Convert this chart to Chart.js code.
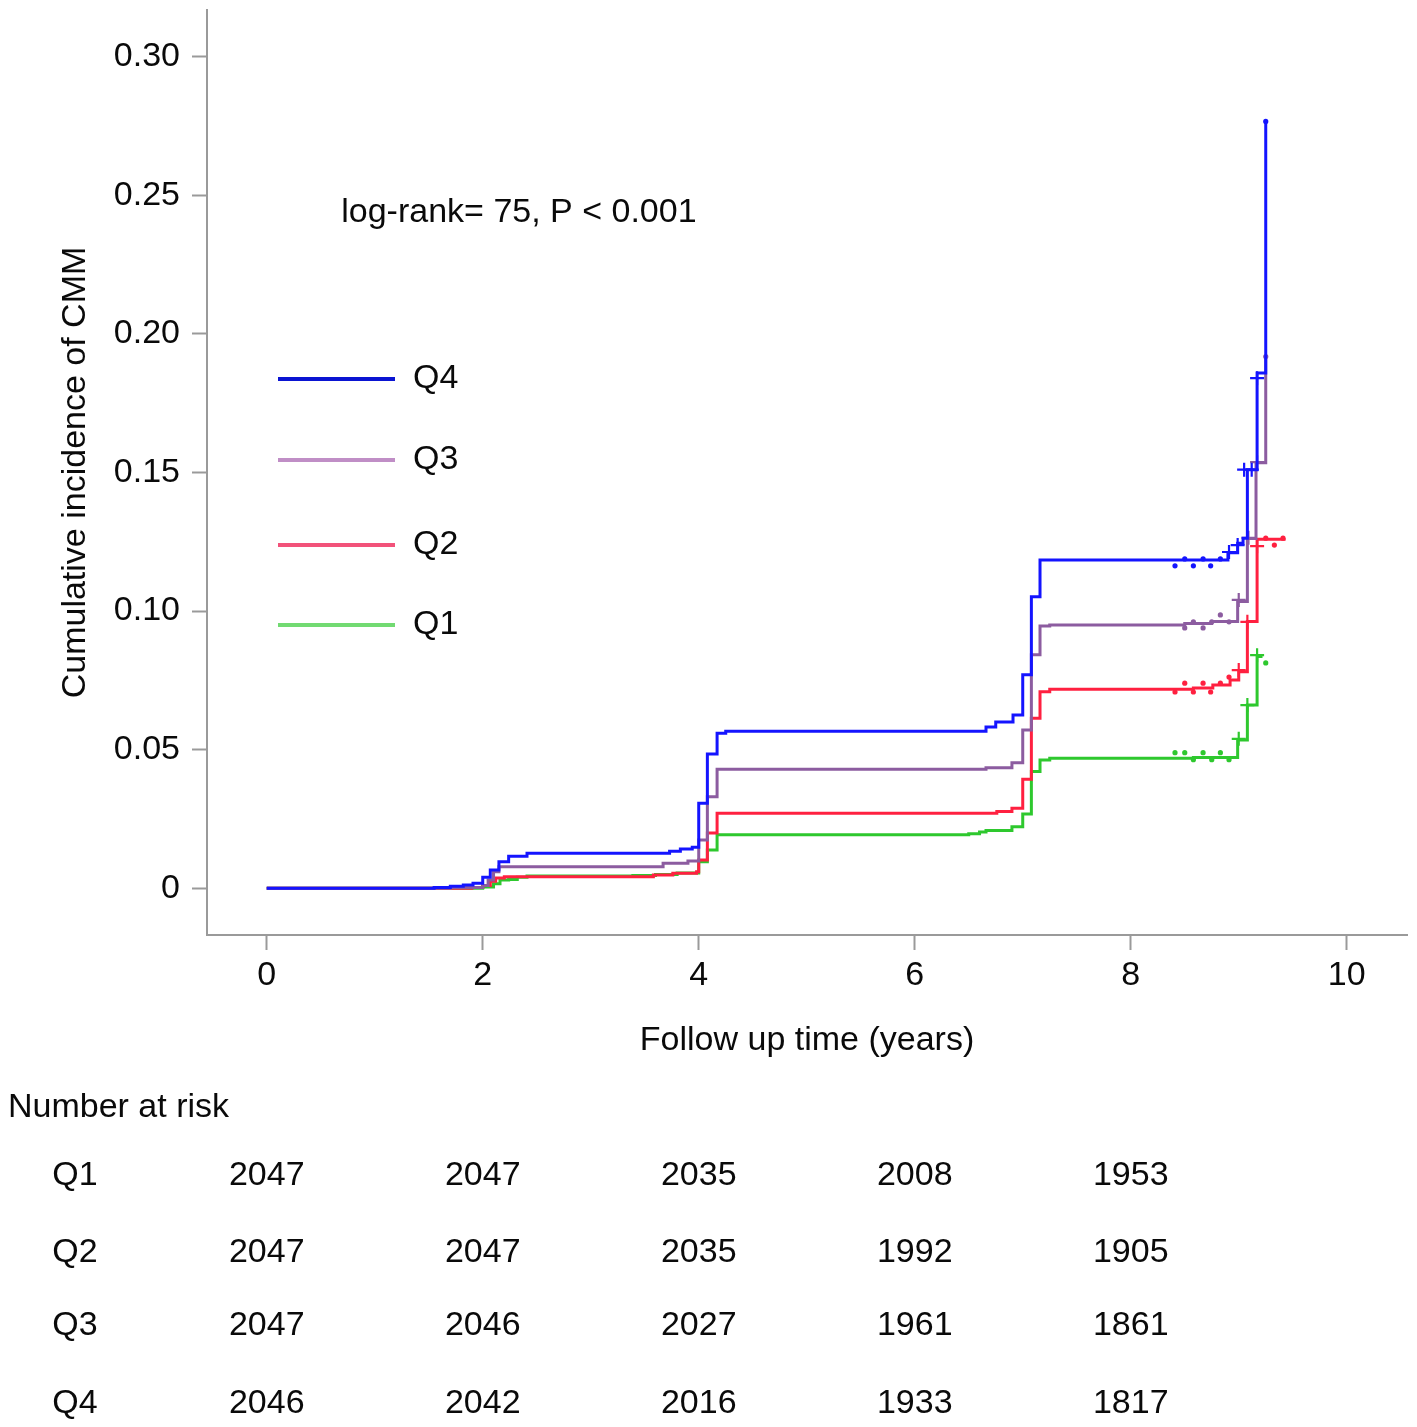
<!DOCTYPE html>
<html>
<head>
<meta charset="utf-8">
<script src="https://cdn.jsdelivr.net/npm/chart.js@4.4.0/dist/chart.umd.min.js"></script>
<style>
  html, body { margin: 0; padding: 0; background: #ffffff; }
  #wrap { position: relative; width: 1417px; height: 1427px; }
</style>
</head>
<body>
<div id="wrap"><canvas id="c" width="1417" height="1427"></canvas></div>
<script>
// ---------------- DATA ----------------
const groupNames = ['Q4', 'Q3', 'Q2', 'Q1'];

// Step curves: value becomes v at time t
const q4Times  = [0, 1.55, 1.70, 1.82, 1.91, 2.00, 2.07, 2.15, 2.24, 2.41, 3.73, 3.83, 3.94, 4.00, 4.08, 4.17, 4.25, 6.66, 6.75, 6.91, 7.00, 7.08, 7.16, 8.90, 8.99, 9.04, 9.08, 9.17, 9.25];
const q4Values = [0, 0.0003, 0.0007, 0.0012, 0.0018, 0.0040, 0.0066, 0.0096, 0.0116, 0.0126, 0.0134, 0.0142, 0.0148, 0.0307, 0.0484, 0.0559, 0.0566, 0.0582, 0.0600, 0.0625, 0.0770, 0.1052, 0.1184, 0.1210, 0.1245, 0.1263, 0.1510, 0.1859, 0.2766];

const q3Times  = [0, 1.70, 2.00, 2.05, 2.10, 2.15, 3.67, 3.90, 4.00, 4.08, 4.17, 6.66, 6.90, 7.00, 7.08, 7.16, 7.25, 8.50, 8.75, 8.99, 9.08, 9.16, 9.25];
const q3Values = [0, 0.0003, 0.0010, 0.0030, 0.0060, 0.0078, 0.0090, 0.0098, 0.0174, 0.0330, 0.0429, 0.0435, 0.0453, 0.0571, 0.0842, 0.0946, 0.0950, 0.0955, 0.0962, 0.1034, 0.1262, 0.1535, 0.1918];

const q2Times  = [0, 1.90, 2.00, 2.07, 2.12, 2.20, 3.58, 3.76, 3.98, 4.00, 4.08, 4.17, 6.76, 6.90, 7.00, 7.08, 7.16, 7.25, 8.58, 8.76, 8.92, 9.00, 9.08, 9.17, 9.42];
const q2Values = [0, 0.0003, 0.0010, 0.0025, 0.0037, 0.0042, 0.0048, 0.0054, 0.0060, 0.0102, 0.0199, 0.0271, 0.0277, 0.0289, 0.0393, 0.0613, 0.0709, 0.0718, 0.0722, 0.0733, 0.0751, 0.0781, 0.0962, 0.1259, 0.1263];

const q1Times  = [0, 2.00, 2.10, 2.16, 2.24, 2.32, 2.41, 3.39, 3.60, 3.80, 4.00, 4.08, 4.17, 6.50, 6.60, 6.66, 6.90, 7.00, 7.08, 7.16, 7.25, 8.58, 8.99, 9.08, 9.17, 9.22];
const q1Values = [0, 0.0005, 0.0016, 0.0030, 0.0032, 0.0040, 0.0044, 0.0046, 0.0050, 0.0055, 0.0096, 0.0138, 0.0193, 0.0197, 0.0203, 0.0208, 0.0222, 0.0268, 0.0421, 0.0463, 0.0469, 0.0472, 0.0535, 0.0661, 0.0836, 0.0836];

// Censoring marks
const q4DotX = [8.41, 8.50, 8.58, 8.67, 8.74, 8.83, 9.25];
const q4DotY = [0.1163, 0.1188, 0.1163, 0.1188, 0.1163, 0.1188, 0.2766];
const q4CrossX = [8.91, 8.99, 9.05, 9.12, 9.17];
const q4CrossY = [0.1213, 0.1238, 0.1510, 0.1510, 0.1840];

const q3DotX = [8.50, 8.58, 8.67, 8.75, 8.83, 8.91, 9.25];
const q3DotY = [0.0939, 0.0961, 0.0939, 0.0961, 0.0986, 0.0961, 0.1918];
const q3CrossX = [9.00, 9.09, 9.17];
const q3CrossY = [0.1040, 0.1264, 0.1537];

const q2DotX = [8.41, 8.50, 8.58, 8.67, 8.74, 8.83, 8.91, 9.25, 9.33, 9.41];
const q2DotY = [0.0708, 0.0740, 0.0708, 0.0740, 0.0708, 0.0740, 0.0762, 0.1263, 0.1238, 0.1263];
const q2CrossX = [9.00, 9.08, 9.17];
const q2CrossY = [0.0787, 0.0961, 0.1234];

const q1DotX = [8.41, 8.50, 8.58, 8.67, 8.75, 8.83, 8.91, 9.25];
const q1DotY = [0.0489, 0.0489, 0.0464, 0.0489, 0.0464, 0.0489, 0.0464, 0.0813];
const q1CrossX = [9.00, 9.08, 9.17];
const q1CrossY = [0.0539, 0.0661, 0.0841];

// Axes
const xTicks = [0, 2, 4, 6, 8, 10];
const yTicks = [0, 0.05, 0.10, 0.15, 0.20, 0.25, 0.30];

// Number at risk
const riskTimes = [0, 2, 4, 6, 8];
const riskRowNames = ['Q1', 'Q2', 'Q3', 'Q4'];
const riskQ1 = [2047, 2047, 2035, 2008, 1953];
const riskQ2 = [2047, 2047, 2035, 1992, 1905];
const riskQ3 = [2047, 2046, 2027, 1961, 1861];
const riskQ4 = [2046, 2042, 2016, 1933, 1817];

const annotationText = 'log-rank= 75, P < 0.001';

// ---------------- STYLE ----------------
const FONT = "Arial, 'Liberation Sans', Helvetica, sans-serif";
const FS = 34;
const curveColors  = { Q4: '#1414ff', Q3: '#8c5ca0', Q2: '#ff2040', Q1: '#2ec82e' };
const legendColors = { Q4: '#0a14d2', Q3: '#c08ec6', Q2: '#f2527a', Q1: '#72da72' };
const axisGray = '#9a9a9a';

function pts(xs, ys) { return xs.map((x, i) => ({ x: x, y: ys[i] })); }

const curveData = {
  Q4: pts(q4Times, q4Values), Q3: pts(q3Times, q3Values),
  Q2: pts(q2Times, q2Values), Q1: pts(q1Times, q1Values)
};
const dotData = {
  Q4: pts(q4DotX, q4DotY), Q3: pts(q3DotX, q3DotY),
  Q2: pts(q2DotX, q2DotY), Q1: pts(q1DotX, q1DotY)
};
const crossData = {
  Q4: pts(q4CrossX, q4CrossY), Q3: pts(q3CrossX, q3CrossY),
  Q2: pts(q2CrossX, q2CrossY), Q1: pts(q1CrossX, q1CrossY)
};
const riskRows = [riskQ1, riskQ2, riskQ3, riskQ4];

const datasets = [];
groupNames.forEach(g => {
  datasets.push({
    label: g, data: curveData[g], showLine: true, stepped: 'before',
    borderColor: curveColors[g], borderWidth: 3, pointRadius: 0, fill: false
  });
});
groupNames.forEach(g => {
  datasets.push({
    label: g + ' censored', data: dotData[g], showLine: false,
    pointStyle: 'circle', pointRadius: 2.6, pointBackgroundColor: curveColors[g],
    pointBorderColor: curveColors[g], pointBorderWidth: 0
  });
  datasets.push({
    label: g + ' censored+', data: crossData[g], showLine: false,
    pointStyle: 'cross', pointRadius: 7, pointBorderColor: curveColors[g],
    pointBorderWidth: 2.2
  });
});

const extras = {
  id: 'kmExtras',
  afterDraw(chart) {
    const ctx = chart.ctx;
    const xs = chart.scales.x, ys = chart.scales.y;
    const left = chart.chartArea.left;
    ctx.save();
    ctx.font = FS + 'px ' + FONT;
    ctx.fillStyle = '#0a0a0a';
    ctx.textBaseline = 'middle';
    // annotation
    ctx.textAlign = 'left';
    ctx.fillText(annotationText, xs.getPixelForValue(0.69), ys.getPixelForValue(0.2436));
    // legend
    const legendY = [379, 460, 545, 625];
    groupNames.forEach((g, i) => {
      ctx.strokeStyle = legendColors[g];
      ctx.lineWidth = 4;
      ctx.beginPath();
      ctx.moveTo(left + 71, legendY[i]);
      ctx.lineTo(left + 188, legendY[i]);
      ctx.stroke();
      ctx.fillStyle = '#0a0a0a';
      ctx.textAlign = 'left';
      ctx.fillText(g, left + 206, legendY[i]);
    });
    // number at risk
    ctx.textAlign = 'left';
    ctx.fillText('Number at risk', 8, 1108);
    const rowY = [1176, 1253, 1326, 1404];
    riskRows.forEach((row, r) => {
      ctx.textAlign = 'center';
      ctx.fillText(riskRowNames[r], 75, rowY[r]);
      row.forEach((n, k) => {
        ctx.fillText(String(n), xs.getPixelForValue(riskTimes[k]), rowY[r]);
      });
    });
    ctx.restore();
  }
};

new Chart(document.getElementById('c'), {
  type: 'scatter',
  data: { datasets: datasets },
  options: {
    responsive: false,
    animation: false,
    devicePixelRatio: 1,
    layout: { padding: { left: 0, right: 10, top: 10, bottom: 366 } },
    plugins: { legend: { display: false }, tooltip: { enabled: false } },
    scales: {
      x: {
        type: 'linear', min: -0.553, max: 10.558,
        afterBuildTicks: s => { s.ticks = xTicks.map(v => ({ value: v })); },
        afterFit: s => { s.height = 126; s.paddingLeft = 0; s.paddingRight = 0; },
        ticks: { autoSkip: false, maxRotation: 0, padding: 5, color: '#0a0a0a',
                 font: { size: FS, family: FONT }, callback: v => String(v) },
        grid: { display: true, drawOnChartArea: false, drawTicks: true, tickLength: 15,
                tickColor: axisGray, tickWidth: 2 },
        border: { display: true, color: axisGray, width: 2 },
        title: { display: true, text: 'Follow up time (years)', color: '#0a0a0a',
                 font: { size: FS, family: FONT }, padding: { top: 0, bottom: 0 } }
      },
      y: {
        type: 'linear', min: -0.01685, max: 0.3168,
        afterBuildTicks: s => { s.ticks = yTicks.map(v => ({ value: v })); },
        afterFit: s => { s.width = 207; s.paddingTop = 0; s.paddingBottom = 0; },
        ticks: { autoSkip: false, padding: 12, color: '#0a0a0a',
                 font: { size: FS, family: FONT },
                 callback: v => (v === 0 ? '0' : v.toFixed(2)) },
        grid: { display: true, drawOnChartArea: false, drawTicks: true, tickLength: 15,
                tickColor: axisGray, tickWidth: 2 },
        border: { display: true, color: axisGray, width: 2 },
        title: { display: true, text: 'Cumulative incidence of CMM', color: '#0a0a0a',
                 font: { size: FS, family: FONT }, padding: { top: 55, bottom: 0 } }
      }
    }
  },
  plugins: [extras]
});
</script>
</body>
</html>
